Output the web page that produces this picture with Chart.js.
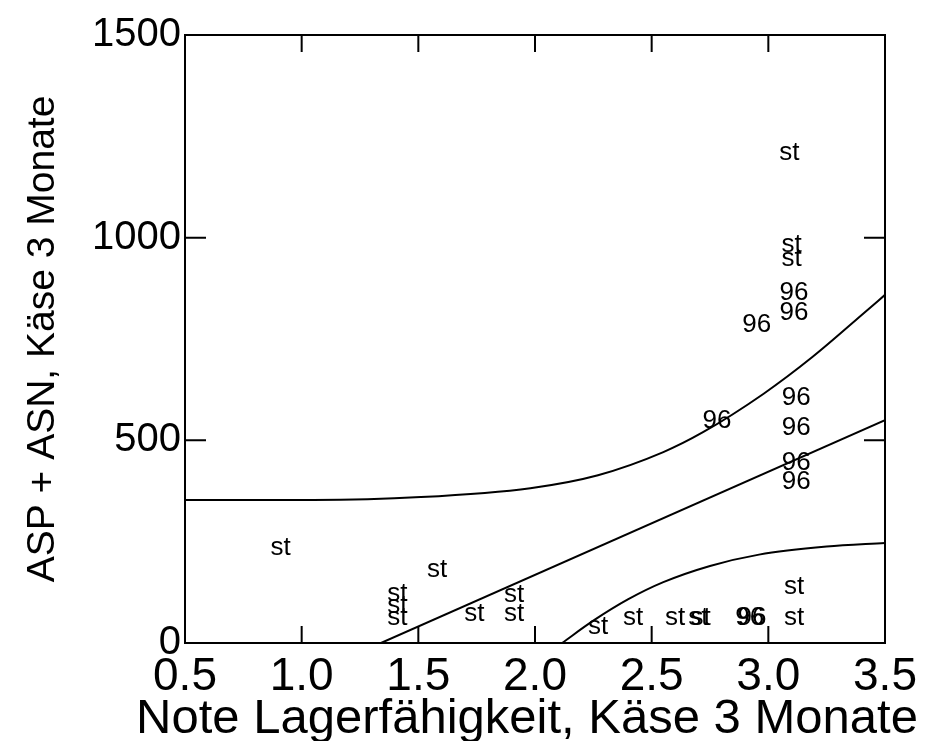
<!DOCTYPE html>
<html>
<head>
<meta charset="utf-8">
<script src="https://cdn.jsdelivr.net/npm/chart.js@4/dist/chart.umd.min.js"></script>
<style>
  html, body { margin: 0; padding: 0; background: #fff; }
  #wrap { width: 928px; height: 741px; }
</style>
</head>
<body>
<div id="wrap"><canvas id="plot"></canvas></div>
<script>
// points marked "st"
const stX = [0.91, 1.58, 1.41, 1.41, 1.41, 1.74, 1.91, 1.91, 2.27, 2.42, 2.60, 2.70, 2.71, 3.11, 3.11, 3.09, 3.10, 3.10];
const stY = [234, 180, 121, 91, 62, 72, 118, 72, 39, 62, 62, 62, 62, 138, 62, 1209, 982, 947];

// points marked "96"
const n96X = [2.92, 2.93, 3.11, 3.11, 2.95, 2.78, 3.12, 3.12, 3.12, 3.12];
const n96Y = [62, 62, 863, 814, 785, 548, 604, 530, 444, 397];

// regression line and its bands
const fitX = [1.34, 3.5];
const fitY = [0, 550];
const upperX = [0.5, 1.05, 1.51, 1.98, 2.27, 2.55, 2.72, 2.98, 3.19, 3.41, 3.5];
const upperY = [353, 353, 360, 382, 414, 471, 520, 615, 706, 814, 859];
const lowerX = [2.116, 2.25, 2.4, 2.55, 2.75, 2.96, 3.25, 3.5];
const lowerY = [0, 55, 108, 150, 190, 218, 238, 247];

const xTicks = [0.5, 1.0, 1.5, 2.0, 2.5, 3.0, 3.5];
const yTicks = [0, 500, 1000, 1500];

const xTitle = 'Note Lagerfähigkeit, Käse 3 Monate';
const yTitle = 'ASP + ASN, Käse 3 Monate';

const FONT = "'Liberation Sans', Arial, Helvetica, sans-serif";

function toPoints(xs, ys) {
    return xs.map((x, i) => ({ x: x, y: ys[i] }));
}

function curve(xs, ys) {
    return {
        data: toPoints(xs, ys),
        showLine: true,
        borderColor: '#000',
        borderWidth: 2,
        pointRadius: 0,
        cubicInterpolationMode: 'monotone',
        fill: false
    };
}

function marks(xs, ys, text) {
    return {
        data: toPoints(xs, ys),
        pointRadius: 0,
        markText: text
    };
}

// writes the label text in place of each point marker
const textMarks = {
    id: 'textMarks',
    afterDatasetsDraw(chart) {
        const ctx = chart.ctx;
        ctx.save();
        ctx.fillStyle = '#000';
        ctx.font = '26px ' + FONT;
        ctx.textAlign = 'center';
        ctx.textBaseline = 'middle';
        chart.data.datasets.forEach((ds, i) => {
            if (!ds.markText) return;
            chart.getDatasetMeta(i).data.forEach(el => {
                ctx.fillText(ds.markText, el.x, el.y);
            });
        });
        ctx.restore();
    }
};

// box around the plot with ticks pointing inwards, plus the x title
// (the built-in title gets squeezed to the plot width, the original is wider)
const frame = {
    id: 'frame',
    afterDraw(chart) {
        const { ctx, chartArea: a, scales } = chart;
        ctx.save();
        ctx.strokeStyle = '#000';
        ctx.lineWidth = 2;
        ctx.strokeRect(a.left, a.top, a.right - a.left, a.bottom - a.top);
        ctx.beginPath();
        xTicks.slice(1, -1).forEach(v => {
            const px = scales.x.getPixelForValue(v);
            ctx.moveTo(px, a.bottom); ctx.lineTo(px, a.bottom - 17);
            ctx.moveTo(px, a.top); ctx.lineTo(px, a.top + 17);
        });
        yTicks.slice(1, -1).forEach(v => {
            const py = scales.y.getPixelForValue(v);
            ctx.moveTo(a.left, py); ctx.lineTo(a.left + 21, py);
            ctx.moveTo(a.right, py); ctx.lineTo(a.right - 21, py);
        });
        ctx.stroke();

        ctx.fillStyle = '#000';
        ctx.font = '49px ' + FONT;
        ctx.textAlign = 'center';
        ctx.textBaseline = 'middle';
        ctx.fillText(xTitle, (a.left + a.right) / 2 - 8, scales.x.bottom - 22);
        ctx.restore();
    }
};

const ctx = document.getElementById('plot').getContext('2d');
const chart = new Chart(ctx, {
    type: 'scatter',
    data: {
        datasets: [
            curve(upperX, upperY),
            curve(fitX, fitY),
            curve(lowerX, lowerY),
            marks(stX, stY, 'st'),
            marks(n96X, n96Y, '96')
        ]
    },
    options: {
        responsive: true,
        maintainAspectRatio: false,
        animation: false,
        layout: { padding: { left: 0, right: 43, top: 35, bottom: 0 } },
        plugins: {
            legend: { display: false },
            tooltip: { enabled: false }
        },
        scales: {
            x: {
                type: 'linear',
                min: 0.5,
                max: 3.5,
                afterBuildTicks: s => { s.ticks = xTicks.map(v => ({ value: v })); },
                afterFit: s => { s.height = 98; },
                grid: { display: false, drawTicks: false },
                border: { display: false },
                ticks: {
                    color: '#000',
                    padding: 7,
                    maxRotation: 0,
                    font: { family: FONT, size: 46 },
                    callback: v => Number(v).toFixed(1)
                },
                title: { display: false }
            },
            y: {
                type: 'linear',
                min: 0,
                max: 1500,
                afterBuildTicks: s => { s.ticks = yTicks.map(v => ({ value: v })); },
                afterFit: s => { s.width = 185; },
                grid: { display: false, drawTicks: false },
                border: { display: false },
                ticks: {
                    color: '#000',
                    padding: 4,
                    font: { family: FONT, size: 40 },
                    callback: v => String(v)
                },
                title: {
                    display: true,
                    text: yTitle,
                    color: '#000',
                    font: { family: FONT, size: 39 },
                    padding: { top: 20, bottom: 0 }
                }
            }
        }
    },
    plugins: [textMarks, frame]
});
</script>
</body>
</html>
